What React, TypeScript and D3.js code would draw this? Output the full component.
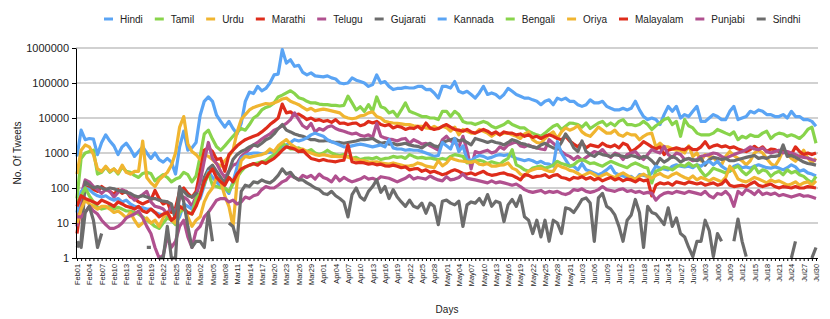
import React, { useEffect, useRef } from "react";
import * as d3 from "d3";

const WIDTH = 830;
const HEIGHT = 319;
const FONT = "'Liberation Sans', Arial, Helvetica, sans-serif";

// Feb 2020 is a leap month: Feb01 .. Jul30 = 181 days
const MONTHS: [string, number][] = [
  ["Feb", 29],
  ["Mar", 31],
  ["Apr", 30],
  ["May", 31],
  ["Jun", 30],
  ["Jul", 30],
];
const days: string[] = MONTHS.flatMap(([m, n]) =>
  d3.range(1, n + 1).map((d) => m + String(d).padStart(2, "0"))
);

const yTicks = [1, 10, 100, 1000, 10000, 100000, 1000000];

const seriesNames = [
  "Hindi", "Tamil", "Urdu", "Marathi", "Telugu", "Gujarati",
  "Kannada", "Bengali", "Oriya", "Malayalam", "Punjabi", "Sindhi",
];
const palette = ["#5aa4f4", "#88d44b", "#f0b530", "#de2c1b", "#b0508f", "#6c6c6c"];

const hindi = [
  800, 4500, 2400, 2600, 2500, 900, 2000, 3300, 2200, 1600,
  900, 1500, 1900, 1300, 800, 1100, 1500, 1000, 700, 1000,
  650, 550, 700, 550, 250, 1500, 4200, 1200, 1400, 2000,
  12000, 30000, 40000, 30000, 12000, 8000, 5500, 8000, 5000, 3500,
  7000, 30000, 55000, 50000, 80000, 60000, 70000, 100000, 170000, 180000,
  900000, 370000, 460000, 300000, 320000, 200000, 170000, 195000, 160000, 155000,
  150000, 160000, 140000, 130000, 100000, 95000, 100000, 140000, 120000, 110000,
  100000, 80000, 90000, 170000, 100000, 110000, 80000, 65000, 70000, 70000,
  75000, 72000, 72000, 80000, 80000, 65000, 66000, 52000, 37000, 80000,
  80000, 72000, 110000, 58000, 52000, 58000, 47000, 37000, 52000, 80000,
  47000, 52000, 47000, 37000, 47000, 70000, 58000, 47000, 42000, 37000,
  37000, 33000, 30000, 24000, 30000, 33000, 24000, 37000, 33000, 37000,
  30000, 30000, 24000, 21500, 24000, 33000, 27000, 27000, 30000, 21500,
  19000, 17000, 17000, 19000, 17000, 19000, 30000, 17000, 11000, 9000,
  10000, 9000, 6500, 12500, 21500, 15500, 21500, 10000, 12500, 11000,
  15500, 21500, 8000, 8000, 10000, 12500, 11000, 9000, 9000, 15500,
  21500, 9000, 10000, 11000, 15500, 14000, 17000, 15500, 12500, 12500,
  11000, 11000, 12500, 10000, 15500, 11000, 11000, 9000, 9000, 8000,
  5800,
];

const tamil = [
  50, 700, 1000, 1100, 1200, 250, 280, 400, 280, 350,
  250, 400, 300, 280, 230, 200, 260, 280, 260, 160,
  200, 240, 200, 150, 180, 200, 280, 240, 150, 220,
  800, 3500, 4500, 2500, 1500, 1200, 1600, 2200, 3000, 4000,
  5000, 4500, 6500, 10000, 12000, 17000, 20000, 22000, 27000, 40000,
  45000, 52000, 60000, 50000, 38000, 35000, 30000, 27000, 27000, 25000,
  24000, 24000, 23000, 23000, 22000, 23000, 42000, 27000, 17000, 21000,
  15500, 24000, 15500, 40000, 21000, 19000, 14000, 15500, 11000, 17000,
  27000, 15500, 14000, 12500, 11000, 11000, 10000, 10000, 9000, 15500,
  15500, 11000, 15500, 12500, 8000, 7200, 7200, 6500, 7200, 8000,
  7200, 5800, 5200, 5800, 6500, 8000, 6500, 5800, 5200, 5200,
  4200, 3700, 3300, 3000, 3700, 4700, 5800, 6500, 4700, 5800,
  7200, 7000, 6500, 5500, 7200, 5000, 6000, 7200, 8000, 6000,
  7200, 6000, 8000, 9000, 6500, 6500, 6000, 6500, 8000, 6500,
  4700, 6000, 7200, 9000, 10000, 6500, 8000, 3000, 9000, 6000,
  5200, 3700, 3300, 3300, 3300, 3700, 4700, 4200, 3700, 3300,
  4000, 2400, 3000, 2700, 3300, 3000, 3000, 3700, 4200, 2600,
  3300, 3700, 3500, 3000, 3300, 3000, 2600, 3300, 4700, 5500,
  1900,
];

const urdu = [
  250, 1200, 1700, 1500, 900, 350, 300, 420, 300, 350,
  270, 450, 280, 250, 300, 300, 2200, 200, 140, 110,
  170, 220, 280, 450, 1000, 5500, 11000, 1800, 1100, 900,
  650, 900, 800, 650, 500, 420, 600, 800, 1200, 4000,
  9000, 12500, 17000, 20000, 22000, 24000, 26000, 25000, 27000, 30000,
  35000, 37000, 30000, 27000, 24000, 20000, 17000, 19000, 16000, 17000,
  18000, 17000, 16000, 15000, 14000, 11000, 10000, 9500, 10000, 11500,
  12000, 14000, 15000, 11000, 10000, 8000, 7500, 7200, 7000, 6800,
  6500, 6500, 6000, 5800, 5800, 5200, 5000, 5800, 5000, 5800,
  5300, 4200, 5500, 3300, 4700, 4200, 3700, 3700, 4700, 4200,
  3700, 3000, 3700, 3300, 3700, 3700, 3300, 3000, 2600, 3500,
  4000, 2400, 2000, 1900, 2600, 3300, 4000, 2600, 4000, 5200,
  4500, 5000, 6000, 4000, 3300, 3000, 4000, 5500, 4500, 3700,
  3700, 4500, 3300, 3000, 3700, 3300, 3300, 2400, 3000, 3500,
  3700, 1500, 1900, 1500, 1500, 1300, 1200, 1200, 1000, 1600,
  800, 1000, 600, 900, 800, 750, 550, 460, 800, 1100,
  850, 700, 600, 460, 600, 1000, 1200, 1000, 700, 500,
  420, 650, 1200, 950, 700, 580, 800, 1200, 720, 520,
  700,
];

const marathi = [
  5, 35, 110, 100, 90, 80, 110, 90, 80, 65,
  90, 70, 80, 55, 50, 40, 35, 40, 45, 85,
  50, 35, 40, 20, 27, 80, 100, 70, 55, 80,
  300, 1200, 1400, 1100, 650, 700, 300, 900, 1200, 1600,
  2000, 2400, 2700, 3000, 3300, 4000, 5000, 6500, 8000, 10000,
  25000, 14000, 15000, 12000, 13000, 11000, 9000, 10000, 8500, 9000,
  8000, 8500, 7500, 9000, 7000, 7200, 6500, 7000, 7200, 6000,
  6500, 8000, 7200, 8000, 6500, 6000, 6500, 5200, 5800, 5500,
  4700, 5200, 5000, 5800, 4700, 7200, 5200, 4700, 5000, 5800,
  6500, 5500, 4700, 4500, 4200, 4700, 4000, 3700, 4200, 4700,
  4200, 3500, 4000, 3300, 4000, 3700, 3700, 3300, 3500, 3000,
  3300, 2800, 3000, 2600, 3000, 3300, 3000, 2600, 2400, 3000,
  2200, 1800, 1500, 2000, 1400, 1700, 1600, 1500, 1900, 1600,
  1500, 1700, 1400, 1900, 1700, 1100, 1300, 1600, 2100, 1800,
  1500, 1300, 1500, 900, 1200, 1300, 1400, 1300, 1250, 1500,
  1250, 1250, 1500, 2100, 1400, 1600, 1700, 1500, 1600, 1400,
  1500, 1300, 1200, 1100, 1250, 1550, 1250, 1500, 1100, 1300,
  1250, 1100, 1250, 1000, 900, 1500, 1100, 900, 1000, 900,
  1000,
];

const telugu = [
  8, 60, 170, 150, 110, 90, 70, 90, 80, 55,
  75, 90, 80, 60, 45, 55, 65, 80, 40, 30,
  28, 25, 18, 30, 20, 50, 55, 45, 30, 60,
  150, 600, 2000, 700, 500, 300, 200, 300, 450, 500,
  800, 1000, 1300, 1700, 2000, 2500, 3000, 3500, 4500, 5000,
  6000, 7000, 9000, 14000, 9000, 6000, 5000, 7000, 4000, 5000,
  4500, 5500, 6000, 5000, 4500, 4200, 3800, 3500, 3700, 3200,
  3000, 3300, 2800, 7000, 3000, 2700, 2500, 2400, 2200, 2500,
  2600, 1900, 2400, 2100, 1800, 1900, 1600, 1400, 1200, 2400,
  3000, 2200, 2000, 1500, 3000, 1200, 350, 1100, 1000, 1100,
  1200, 1000, 1100, 1500, 1300, 1700, 1900, 2100, 1600, 1500,
  1700, 1500, 1400, 1300, 1250, 2400, 1900, 1500, 1100, 900,
  800, 650, 800, 620, 750, 900, 1100, 1000, 1250, 900,
  750, 1000, 900, 650, 900, 1000, 1100, 800, 650, 900,
  1250, 1100, 1000, 1550, 900, 750, 1000, 900, 650, 700,
  600, 650, 800, 850, 900, 1000, 950, 800, 700, 800,
  900, 1000, 1100, 1250, 1500, 1300, 1250, 1400, 1100, 1000,
  1100, 1200, 1000, 1100, 1000, 900, 800, 750, 720, 650,
  600,
];

const gujarati = [
  2, 3, 150, 120, 100, 110, 100, 90, 100, 95,
  85, 80, 75, 70, 60, 55, 60, 55, 50, 50,
  45, 42, 40, 35, 12, 100, 80, 60, 55, 70,
  60, 200, 350, 450, 300, 200, 140, 300, 650, 900,
  1100, 1250, 1500, 1700, 1550, 1900, 2400, 2700, 3500, 5000,
  6500, 4500, 4000, 3500, 3200, 3000, 2700, 2400, 2400, 2200,
  2200, 2300, 2100, 2000, 2000, 1900, 2000, 2100, 2200, 2400,
  2400, 2500, 2600, 2200, 1900, 2000, 1800, 1900, 1700, 1800,
  1900, 1700, 1600, 1550, 1400, 1700, 1900, 1600, 1500, 2000,
  2200, 2400, 2600, 2200, 2400, 2000, 1700, 2600, 2400, 2200,
  2000, 2200, 2000, 1900, 1700, 2000, 2400, 2200, 1900, 1800,
  1600, 1500, 1400, 1700, 1900, 1600, 1400, 1300, 2000, 3500,
  2400, 1400, 1100, 2200, 1100, 900, 800, 1000, 900, 850,
  800, 900, 850, 800, 750, 850, 800, 700, 800, 750,
  600, 450, 700, 550, 650, 800, 700, 550, 650, 700,
  650, 600, 700, 450, 650, 750, 700, 650, 700, 600,
  600, 650, 700, 750, 800, 850, 700, 750, 700, 800,
  800, 850, 1700, 800, 850, 750, 650, 550, 500, 480,
  450,
];

const kannada = [
  20, 80, 100, 90, 70, 60, 55, 60, 50, 45,
  50, 40, 45, 35, 30, 28, 27, 25, 25, 20,
  18, 17, 15, 12, 10, 15, 35, 30, 25, 40,
  50, 120, 300, 200, 150, 110, 100, 70, 150, 400,
  700, 850, 950, 1000, 1000, 950, 1000, 1050, 1100, 1250,
  1500, 1700, 2000, 2400, 2200, 2400, 2700, 3300, 3700, 3300,
  3000, 2400, 2100, 1900, 1700, 1500, 1500, 1600, 1700, 1800,
  1700, 1600, 1500, 1600, 1700, 1500, 2400, 1400, 1300, 1300,
  1200, 1250, 1200, 1200, 1100, 1000, 900, 800, 850, 2000,
  1600, 1300, 2600, 1100, 1600, 650, 600, 750, 850, 800,
  700, 750, 850, 900, 850, 900, 800, 700, 650, 600,
  650, 600, 520, 580, 500, 480, 420, 2100, 1000, 650,
  420, 420, 330, 500, 330, 300, 270, 240, 270, 330,
  420, 270, 240, 220, 200, 215, 170, 240, 230, 215,
  270, 420, 370, 350, 330, 420, 460, 420, 400, 420,
  380, 460, 420, 520, 580, 460, 580, 420, 350, 300,
  420, 460, 380, 400, 370, 420, 460, 420, 380, 370,
  400, 370, 330, 380, 460, 400, 300, 330, 270, 250,
  220,
];

const bengali = [
  40, 60, 100, 60, 40, 28, 25, 27, 30, 25,
  28, 25, 22, 22, 20, 18, 15, 12, 10, 8,
  7, 10, 14, 12, 9, 20, 25, 20, 18, 50,
  70, 130, 270, 120, 110, 100, 100, 80, 130, 200,
  300, 400, 450, 480, 520, 560, 600, 750, 900, 1100,
  1900, 1600, 1300, 1300, 1400, 1200, 1100, 1250, 1000, 900,
  1000, 1200, 1000, 900, 850, 900, 800, 700, 750, 650,
  700, 720, 680, 750, 650, 700, 720, 800, 750, 780,
  700, 900, 800, 720, 750, 700, 720, 680, 650, 700,
  650, 800, 900, 850, 800, 520, 560, 600, 620, 580,
  500, 560, 520, 480, 600, 700, 1250, 460, 400, 330,
  300, 370, 400, 420, 370, 400, 450, 580, 500, 460,
  420, 460, 580, 650, 580, 500, 520, 460, 420, 500,
  580, 520, 460, 420, 380, 460, 520, 460, 400, 370,
  140, 300, 330, 400, 370, 330, 400, 460, 420, 520,
  420, 460, 300, 215, 270, 370, 330, 300, 270, 300,
  370, 420, 300, 240, 300, 420, 270, 330, 300, 215,
  270, 300, 240, 330, 270, 300, 240, 215, 170, 140,
  215,
];

const oriya = [
  10, 25, 45, 35, 30, 25, 30, 30, 25, 20,
  22, 18, 14, 20, 12, 8, 10, 14, 10, 12,
  8, 14, 20, 12, 10, 25, 30, 15, 8, 12,
  15, 40, 70, 100, 200, 150, 60, 30, 8, 150,
  600, 800, 750, 800, 850, 900, 1000, 1300, 1100, 1600,
  2000, 2400, 1800, 1500, 1250, 1300, 1100, 1000, 900, 850,
  900, 850, 800, 800, 780, 800, 760, 700, 650, 620,
  600, 560, 550, 560, 520, 500, 480, 520, 480, 450,
  420, 430, 450, 520, 480, 420, 400, 380, 600, 430,
  520, 720, 650, 600, 580, 560, 540, 580, 480, 460,
  500, 420, 420, 450, 460, 520, 370, 330, 250, 215,
  300, 330, 360, 370, 330, 300, 300, 460, 400, 370,
  320, 300, 260, 220, 250, 280, 240, 200, 230, 260,
  220, 200, 240, 270, 230, 200, 180, 220, 250, 210,
  190, 230, 260, 220, 200, 240, 270, 230, 200, 180,
  220, 170, 200, 180, 160, 190, 170, 150, 200, 420,
  300, 180, 160, 150, 170, 200, 180, 160, 140, 170,
  150, 160, 140, 120, 130, 150, 120, 140, 150, 120,
  160,
];

const malayalam = [
  30, 60, 50, 45, 40, 35, 45, 40, 35, 30,
  40, 35, 30, 28, 25, 30, 22, 20, 25, 20,
  15, 18, 20, 12, 15, 30, 25, 20, 18, 30,
  60, 150, 250, 350, 200, 150, 120, 200, 150, 250,
  350, 400, 450, 500, 450, 550, 500, 600, 700, 900,
  1200, 1500, 1400, 1300, 1100, 1200, 900, 700, 650, 600,
  650, 600, 580, 560, 600, 620, 1700, 560, 520, 540,
  520, 480, 500, 460, 480, 430, 420, 450, 420, 380,
  400, 330, 350, 360, 300, 330, 280, 300, 270, 240,
  260, 300, 330, 300, 260, 250, 270, 240, 270, 300,
  250, 230, 240, 260, 270, 240, 230, 200, 170, 240,
  230, 200, 215, 220, 240, 200, 230, 240, 200, 190,
  170, 200, 190, 210, 180, 200, 170, 190, 160, 180,
  200, 170, 190, 160, 180, 170, 150, 180, 160, 170,
  60, 120, 140, 130, 140, 120, 150, 140, 130, 150,
  140, 130, 140, 120, 130, 140, 120, 130, 170, 120,
  110, 115, 120, 110, 130, 150, 120, 110, 120, 130,
  110, 100, 110, 105, 100, 110, 100, 100, 110, 105,
  100,
];

const punjabi = [
  15, 15, 20, 30, 22, 18, 12, 9, 7, 7,
  8, 10, 14, 16, 18, 22, 14, 8, 5, 2,
  1, 1.2, 4, 2, 3, 8, 12, 4, 2, 6,
  8, 15, 20, 30, 45, 50, 50, 40, 45, 35,
  40, 55, 50, 60, 65, 90, 110, 100, 100, 120,
  150, 170, 230, 200, 170, 230, 200, 230, 180, 250,
  200, 180, 150, 220, 160, 200, 170, 150, 165, 180,
  210, 180, 190, 170, 210, 200, 190, 170, 150, 170,
  190, 230, 180, 200, 190, 180, 220, 190, 170, 160,
  210, 170, 180, 200, 250, 190, 180, 170, 160, 150,
  140, 160, 140, 150, 140, 130, 120, 130, 110, 90,
  80, 75, 80, 85, 72, 80, 75, 80, 70, 65,
  72, 90, 85, 95, 80, 75, 80, 90, 110, 90,
  85, 80, 90, 95, 80, 85, 75, 80, 70, 75,
  70, 45, 60, 70, 75, 70, 80, 75, 70, 80,
  75, 70, 65, 80, 60, 52, 70, 65, 80, 60,
  30, 80, 65, 90, 80, 65, 85, 65, 72, 65,
  72, 60, 65, 60, 55, 60, 65, 58, 60, 55,
  50,
];

// null = no tweets that day (gap on the log axis)
const sindhi: (number | null)[] = [
  3, 2, 20, 30, 12, 2, 5, null, null, null,
  null, null, null, null, null, null, null, 2, 2, null,
  1, 1, 8, 1, 1, 110, 40, 8, 2, 3,
  3, 2, 20, 3, null, null, null, 10, 8, 3,
  80, 120, 110, 150, 140, 170, 150, 140, 170, 230,
  350, 250, 280, 200, 170, 170, 140, 120, 100, 90,
  70, 65, 80, 60, 50, 40, 15, 65, 100, 55,
  45, 80, 110, 170, 75, 110, 50, 90, 55, 40,
  30, 45, 30, 27, 37, 19, 37, 30, 9, 42,
  45, 37, 33, 42, 8, 33, 40, 37, 50, 33,
  65, 30, 42, 38, 11, 33, 47, 30, 60, 15,
  12, 5, 12, 4, 12, 3, 12, 10, 5, 27,
  25, 20, 30, 47, 52, 37, 3, 52, 70, 30,
  25, 17, 8, 3, 12, 17, 47, 20, 2, 30,
  20, 18, 13, 9, 27, 8, 14, 5, 4, 2,
  1.1, 3, 3, 12, 6, 1.1, 5, 3, null, null,
  3, 13, 3, 1.1, null, null, null, null, null, null,
  null, null, null, null, 1, 3, null, null, null, 1,
  2,
];

const seriesValues: (number | null)[][] = [
  hindi, tamil, urdu, marathi, telugu, gujarati,
  kannada, bengali, oriya, malayalam, punjabi, sindhi,
];

const App = () => {
  const svgRef = useRef<SVGSVGElement>(null);

  useEffect(() => {
    const svg = d3.select(svgRef.current);
    svg.selectAll("*").remove();

    const plot = { left: 76, right: 818, top: 48, bottom: 258 };

    const x = d3
      .scaleLinear()
      .domain([0, days.length - 1])
      .range([plot.left + 1, plot.right - 2]);
    const y = d3.scaleLog().domain([1, 1e6]).range([plot.bottom, plot.top]);

    // Gridlines
    svg
      .append("g")
      .selectAll("line")
      .data(yTicks.slice(1))
      .enter()
      .append("line")
      .attr("x1", plot.left)
      .attr("x2", plot.right)
      .attr("y1", (d) => y(d))
      .attr("y2", (d) => y(d))
      .attr("stroke", "#a3a3a3")
      .attr("stroke-width", 1);

    // Lines
    const line = d3
      .line<number | null>()
      .defined((d) => d != null && d > 0)
      .x((_, i) => x(i))
      .y((d) => y(d as number));

    svg
      .append("g")
      .selectAll("path")
      .data(seriesValues)
      .enter()
      .append("path")
      .attr("d", (d) => line(d))
      .attr("fill", "none")
      .attr("stroke", (_, i) => palette[i % palette.length])
      .attr("stroke-width", 3.2)
      .attr("stroke-linejoin", "round");

    // Y axis
    const yAxis = svg
      .append("g")
      .attr("transform", `translate(${plot.left},0)`)
      .call(
        d3
          .axisLeft(y)
          .tickValues(yTicks)
          .tickFormat(d3.format("d"))
          .tickSize(4)
          .tickSizeOuter(0)
      );
    yAxis.select(".domain").attr("stroke", "#000");
    yAxis.selectAll(".tick line").attr("stroke", "#000");
    yAxis
      .selectAll("text")
      .attr("x", -7)
      .style("font-family", FONT)
      .style("font-size", "11px")
      .attr("fill", "#222");

    // X axis, a tick per day, a label every third day
    const xAxis = svg
      .append("g")
      .attr("transform", `translate(0,${plot.bottom})`)
      .call(
        d3
          .axisBottom(x)
          .tickValues(d3.range(days.length))
          .tickFormat((d) => ((d as number) % 3 === 0 ? days[d as number] : ""))
          .tickSize(3)
          .tickSizeOuter(0)
      );
    xAxis
      .select(".domain")
      .attr("stroke", "#000")
      .attr("d", `M${plot.left},0.5H${plot.right}`);
    xAxis.selectAll(".tick line").attr("stroke", "#000");
    xAxis
      .selectAll("text")
      .attr("transform", "rotate(-90)")
      .attr("x", -6)
      .attr("y", 0)
      .attr("dy", "0.35em")
      .style("text-anchor", "end")
      .style("font-family", FONT)
      .style("font-size", "7.4px")
      .attr("fill", "#222");

    // Axis titles
    svg
      .append("text")
      .attr("transform", `translate(21,153) rotate(-90)`)
      .attr("text-anchor", "middle")
      .style("font-family", FONT)
      .style("font-size", "10px")
      .attr("fill", "#222")
      .text("No. Of Tweets");

    svg
      .append("text")
      .attr("x", 447)
      .attr("y", 313)
      .attr("text-anchor", "middle")
      .style("font-family", FONT)
      .style("font-size", "10px")
      .attr("fill", "#222")
      .text("Days");

    // Legend
    const legend = svg.append("g");
    let cursor = 104;
    seriesNames.forEach((name, i) => {
      legend
        .append("line")
        .attr("x1", cursor)
        .attr("x2", cursor + 9)
        .attr("y1", 19)
        .attr("y2", 19)
        .attr("stroke", palette[i % palette.length])
        .attr("stroke-width", 3);
      const t = legend
        .append("text")
        .attr("x", cursor + 16)
        .attr("y", 22.5)
        .style("font-family", FONT)
        .style("font-size", "10px")
        .attr("fill", "#222")
        .text(name);
      const w = (t.node() as SVGTextElement).getComputedTextLength();
      cursor += 16 + w + 12;
    });
  }, []);

  return (
    <svg
      ref={svgRef}
      width={WIDTH}
      height={HEIGHT}
      style={{ position: "absolute", left: 0, top: 0, background: "#fff" }}
    />
  );
};

export default App;
